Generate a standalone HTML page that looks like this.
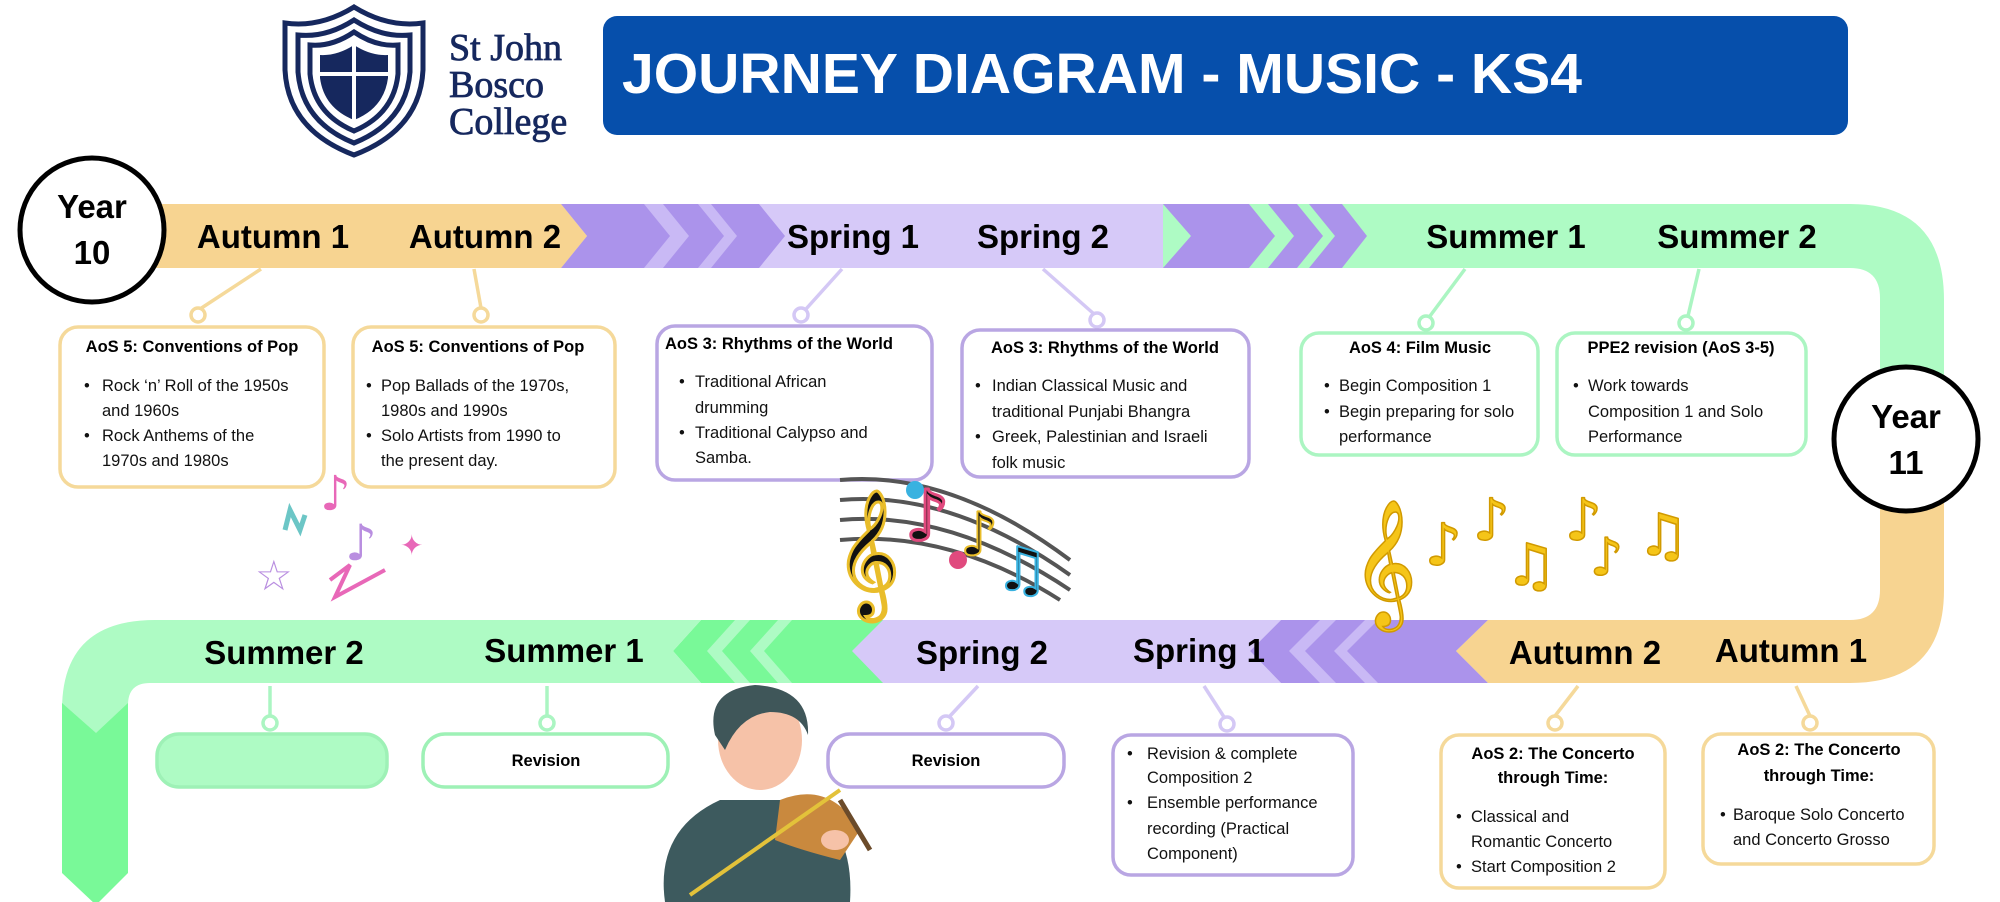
<!DOCTYPE html>
<html><head><meta charset="utf-8"><style>
html,body{margin:0;padding:0;background:#fff;}
svg{display:block}
.s{font-family:"Liberation Sans",sans-serif;font-weight:bold;font-size:33px;fill:#000;text-anchor:middle}
.h{font-family:"Liberation Sans",sans-serif;font-weight:bold;font-size:16.5px;fill:#000}
.t{font-family:"Liberation Sans",sans-serif;font-size:16.5px;fill:#111}
.c{text-anchor:middle}
</style></head><body>
<svg width="2000" height="902" viewBox="0 0 2000 902" xmlns="http://www.w3.org/2000/svg">
<!-- logo -->
<g fill="none" stroke="#16285e" stroke-width="5">
<path d="M285,23 Q320,28 354,7 Q388,28 423,23 L423,70 Q420,130 354,155 Q288,130 285,70 Z"/>
<path d="M298,35 Q326,38 354,20 Q382,38 410,35 L410,72 Q406,122 354,143 Q302,122 298,72 Z"/>
<path d="M310,45 Q332,47 354,32 Q376,47 398,45 L398,74 Q394,114 354,131 Q314,114 310,74 Z"/>
</g>
<path d="M320,55 Q337,56 354,45 Q371,56 388,55 L388,78 Q384,108 354,120 Q324,108 320,78 Z" fill="#16285e"/>
<rect x="352" y="45" width="4" height="75" fill="#fff"/><rect x="320" y="72" width="68" height="4" fill="#fff"/>
<g font-family="Liberation Serif,serif" font-size="38" fill="#16285e" stroke="#16285e" stroke-width="0.8">
<text x="449" y="60">St John</text><text x="449" y="97">Bosco</text><text x="449" y="134">College</text></g>
<!-- banner -->
<rect x="603" y="16" width="1245" height="119" rx="14" fill="#064fab"/>
<text x="622" y="93" font-family="Liberation Sans,sans-serif" font-weight="bold" font-size="57" fill="#fff" textLength="960" lengthAdjust="spacingAndGlyphs">JOURNEY DIAGRAM - MUSIC - KS4</text>

<!-- top band -->
<rect x="561" y="204" width="602" height="64" fill="#d6c9f8"/>
<polygon points="561,204 759,204 785,236 759,268 561,268 587,236" fill="#ab93eb"/>
<polygon points="644,204 663,204 689,236 663,268 644,268 670,236" fill="#c9b9f5"/>
<polygon points="698,204 711,204 737,236 711,268 698,268 724,236" fill="#c9b9f5"/>
<path d="M1163,204 L1850,204 Q1944,204 1944,300 L1944,480 L1880,480 L1880,298 Q1880,268 1850,268 L1163,268 Z" fill="#aefbc4"/>
<polygon points="1163,204 1342,204 1367,236 1342,268 1163,268 1191,236" fill="#ab93eb"/>
<polygon points="1249,204 1268,204 1294,236 1268,268 1249,268 1275,236" fill="#aefbc4"/>
<polygon points="1297,204 1309,204 1335,236 1309,268 1297,268 1323,236" fill="#aefbc4"/>
<polygon points="150,204 561,204 587,236 561,268 150,268" fill="#f7d491"/>
<!-- right vertical orange -->
<path d="M1880,480 L1944,480 L1944,590 Q1944,683 1850,683 L1485,683 L1485,620 L1850,620 Q1880,620 1880,590 Z" fill="#f7d491"/>
<!-- lower band -->
<rect x="701" y="620" width="787" height="63" fill="#d6c9f8"/>
<polygon points="1281,620 1488,620 1456,651 1488,683 1281,683 1250,651" fill="#ab93eb"/>
<polygon points="1488,620 1500,620 1500,683 1488,683 1456,651" fill="#f7d491"/>
<polygon points="1320,620 1336,620 1305,651 1336,683 1320,683 1289,651" fill="#c9b9f5"/>
<polygon points="1365,620 1378,620 1347,651 1378,683 1365,683 1334,651" fill="#c9b9f5"/>
<polygon points="883,620 1281,620 1250,651 1281,683 883,683 852,651" fill="#d6c9f8"/>
<polygon points="701,620 883,620 852,651 883,683 701,683 673,651" fill="#79f998"/>
<polygon points="735,620 750,620 722,651 750,683 735,683 707,651" fill="#aefbc4"/>
<polygon points="778,620 792,620 764,651 792,683 778,683 750,651" fill="#aefbc4"/>
<path d="M701,620 L673,651 L701,683 L150,683 Q128,683 128,705 L128,740 L62,740 L62,710 Q62,620 155,620 Z" fill="#aefbc4"/>
<polygon points="62,703 96,733 128,703 128,873 96,905 62,873" fill="#79f998"/>

<!-- year circles -->
<circle cx="92" cy="230" r="72" fill="#fff" stroke="#000" stroke-width="5"/>
<text class="s" x="92" y="218">Year</text><text class="s" x="92" y="264">10</text>
<circle cx="1906" cy="439" r="72" fill="#fff" stroke="#000" stroke-width="5"/>
<text class="s" x="1906" y="428">Year</text><text class="s" x="1906" y="474">11</text>

<!-- season labels -->
<text class="s" x="273" y="248">Autumn 1</text><text class="s" x="485" y="248">Autumn 2</text>
<text class="s" x="853" y="248">Spring 1</text><text class="s" x="1043" y="248">Spring 2</text>
<text class="s" x="1506" y="248">Summer 1</text><text class="s" x="1737" y="248">Summer 2</text>
<text class="s" x="284" y="664">Summer 2</text><text class="s" x="564" y="662">Summer 1</text>
<text class="s" x="982" y="664">Spring 2</text><text class="s" x="1199" y="662">Spring 1</text>
<text class="s" x="1585" y="664">Autumn 2</text><text class="s" x="1791" y="662">Autumn 1</text>

<!-- connectors -->
<g stroke-width="3.5" fill="#fff">
<g stroke="#f5d99a"><line x1="261" y1="269" x2="200" y2="309"/><circle cx="198" cy="315" r="7"/>
<line x1="474" y1="269" x2="481" y2="308"/><circle cx="481" cy="315" r="7"/>
<line x1="1578" y1="686" x2="1555" y2="716"/><circle cx="1555" cy="723" r="7"/>
<line x1="1796" y1="686" x2="1810" y2="716"/><circle cx="1810" cy="723" r="7"/></g>
<g stroke="#d4c8f5"><line x1="842" y1="269" x2="806" y2="309"/><circle cx="801" cy="315" r="7"/>
<line x1="1043" y1="269" x2="1094" y2="314"/><circle cx="1097" cy="320" r="7"/>
<line x1="978" y1="686" x2="950" y2="716"/><circle cx="946" cy="723" r="7"/>
<line x1="1204" y1="686" x2="1224" y2="717"/><circle cx="1227" cy="724" r="7"/></g>
<g stroke="#abf5c2"><line x1="1465" y1="269" x2="1430" y2="316"/><circle cx="1426" cy="323" r="7"/>
<line x1="1699" y1="269" x2="1688" y2="316"/><circle cx="1686" cy="323" r="7"/>
<line x1="270" y1="686" x2="270" y2="716"/><circle cx="270" cy="723" r="7"/>
<line x1="547" y1="686" x2="547" y2="716"/><circle cx="547" cy="723" r="7"/></g>
</g>

<!-- boxes -->
<g fill="#fff" stroke-width="3.5">
<rect x="60" y="327" width="264" height="160" rx="18" stroke="#f5d99a"/>
<rect x="353" y="327" width="262" height="160" rx="18" stroke="#f5d99a"/>
<rect x="657" y="326" width="275" height="154" rx="18" stroke="#b9a6e3"/>
<rect x="962" y="330" width="287" height="147" rx="18" stroke="#b9a6e3"/>
<rect x="1301" y="333" width="237" height="122" rx="18" stroke="#abf5c2"/>
<rect x="1557" y="333" width="249" height="122" rx="18" stroke="#abf5c2"/>
<rect x="157" y="734" width="230" height="53" rx="22" stroke="#9ef1b6" fill="#aefbc4"/>
<rect x="423" y="734" width="245" height="53" rx="22" stroke="#9ef1b6"/>
<rect x="828" y="734" width="236" height="53" rx="22" stroke="#b9a6e3"/>
<rect x="1113" y="735" width="240" height="140" rx="18" stroke="#b9a6e3"/>
<rect x="1441" y="735" width="224" height="153" rx="18" stroke="#f5d99a"/>
<rect x="1703" y="734" width="231" height="130" rx="18" stroke="#f5d99a"/>
</g>

<!-- box text -->
<text class="h c" x="192" y="352">AoS 5: Conventions of Pop</text>
<g class="t"><text x="84" y="391">•</text><text x="102" y="391">Rock ‘n’ Roll of the 1950s</text><text x="102" y="416">and 1960s</text>
<text x="84" y="441">•</text><text x="102" y="441">Rock Anthems of the</text><text x="102" y="466">1970s and 1980s</text></g>

<text class="h c" x="478" y="352">AoS 5: Conventions of Pop</text>
<g class="t"><text x="366" y="391">•</text><text x="381" y="391">Pop Ballads of the 1970s,</text><text x="381" y="416">1980s and 1990s</text>
<text x="366" y="441">•</text><text x="381" y="441">Solo Artists from 1990 to</text><text x="381" y="466">the present day.</text></g>

<text class="h" x="665" y="349">AoS 3: Rhythms of the World</text>
<g class="t"><text x="679" y="387">•</text><text x="695" y="387">Traditional African</text><text x="695" y="413">drumming</text>
<text x="679" y="438">•</text><text x="695" y="438">Traditional Calypso and</text><text x="695" y="463">Samba.</text></g>

<text class="h c" x="1105" y="353">AoS 3: Rhythms of the World</text>
<g class="t"><text x="975" y="391">•</text><text x="992" y="391">Indian Classical Music and</text><text x="992" y="417">traditional Punjabi Bhangra</text>
<text x="975" y="442">•</text><text x="992" y="442">Greek, Palestinian and Israeli</text><text x="992" y="468">folk music</text></g>

<text class="h c" x="1420" y="353">AoS 4: Film Music</text>
<g class="t"><text x="1324" y="391">•</text><text x="1339" y="391">Begin Composition 1</text>
<text x="1324" y="417">•</text><text x="1339" y="417">Begin preparing for solo</text><text x="1339" y="442">performance</text></g>

<text class="h c" x="1681" y="353">PPE2 revision (AoS 3-5)</text>
<g class="t"><text x="1573" y="391">•</text><text x="1588" y="391">Work towards</text><text x="1588" y="417">Composition 1 and Solo</text><text x="1588" y="442">Performance</text></g>

<text class="h c" x="546" y="766">Revision</text>
<text class="h c" x="946" y="766">Revision</text>

<g class="t"><text x="1127" y="759">•</text><text x="1147" y="759">Revision &amp; complete</text><text x="1147" y="783">Composition 2</text>
<text x="1127" y="808">•</text><text x="1147" y="808">Ensemble performance</text><text x="1147" y="834">recording (Practical</text><text x="1147" y="859">Component)</text></g>

<text class="h c" x="1553" y="759">AoS 2: The Concerto</text><text class="h c" x="1553" y="783">through Time:</text>
<g class="t"><text x="1456" y="822">•</text><text x="1471" y="822">Classical and</text><text x="1471" y="847">Romantic Concerto</text>
<text x="1456" y="872">•</text><text x="1471" y="872">Start Composition 2</text></g>

<text class="h c" x="1819" y="755">AoS 2: The Concerto</text><text class="h c" x="1819" y="781">through Time:</text>
<g class="t"><text x="1720" y="820">•</text><text x="1733" y="820">Baroque Solo Concerto</text><text x="1733" y="845">and Concerto Grosso</text></g>

<!-- decorations -->
<g font-family="DejaVu Sans,sans-serif">
<text x="320" y="510" font-size="48" fill="#e868b8">♪</text>
<text x="345" y="560" font-size="50" fill="#b98ee0">♪</text>
<text x="255" y="590" font-size="42" fill="#b98ee0">☆</text>
<text x="400" y="555" font-size="28" fill="#e868b8">✦</text>
<path d="M285,530 L290,510 L300,530 L305,515" stroke="#6cc6c6" stroke-width="5" fill="none"/>
<path d="M330,580 L350,565 L335,597 L385,570" stroke="#e868b8" stroke-width="4" fill="none"/>
<g stroke="#555" stroke-width="4" fill="none">
<path d="M840,480 Q950,470 1070,560"/><path d="M840,500 Q950,490 1070,575"/><path d="M840,520 Q950,510 1070,590"/><path d="M840,540 Q950,530 1060,600"/></g>
<text x="835" y="590" font-size="110" fill="#111" stroke="#e9bd2a" stroke-width="3">𝄞</text>
<text x="905" y="540" font-size="70" fill="#111" stroke="#e04a7e" stroke-width="3">♪</text>
<text x="960" y="555" font-size="60" fill="#111" stroke="#e9bd2a" stroke-width="2">♪</text>
<text x="995" y="590" font-size="60" fill="#111" stroke="#39b2e0" stroke-width="2">♫</text>
<circle cx="958" cy="560" r="9" fill="#e04a7e"/><circle cx="915" cy="490" r="9" fill="#39b2e0"/>
<g fill="#f5c518" stroke="#d19a00" stroke-width="1.5">
<text x="1352" y="600" font-size="110">𝄞</text>
<text x="1425" y="565" font-size="58">♪</text><text x="1473" y="540" font-size="58">♪</text>
<text x="1505" y="585" font-size="58">♫</text><text x="1565" y="540" font-size="58">♪</text>
<text x="1590" y="575" font-size="52">♪</text><text x="1637" y="555" font-size="58">♫</text></g>
</g>
<!-- violinist -->
<g>
<path d="M665,902 Q655,830 720,800 L800,800 Q855,825 850,902 Z" fill="#3d5a5e"/>
<ellipse cx="760" cy="740" rx="42" ry="50" fill="#f6c2a8"/>
<path d="M715,735 Q705,690 755,685 Q810,688 808,735 Q800,712 770,712 Q740,715 725,750 Z" fill="#3f5659"/>
<path d="M780,800 Q830,780 860,830 L840,860 Q800,850 775,840 Z" fill="#c9893e"/>
<line x1="690" y1="895" x2="840" y2="790" stroke="#e3c23a" stroke-width="4"/>
<line x1="840" y1="800" x2="870" y2="850" stroke="#6b4b2a" stroke-width="5"/>
<ellipse cx="835" cy="840" rx="14" ry="10" fill="#f6c2a8"/>
</g>
</svg>
</body></html>
